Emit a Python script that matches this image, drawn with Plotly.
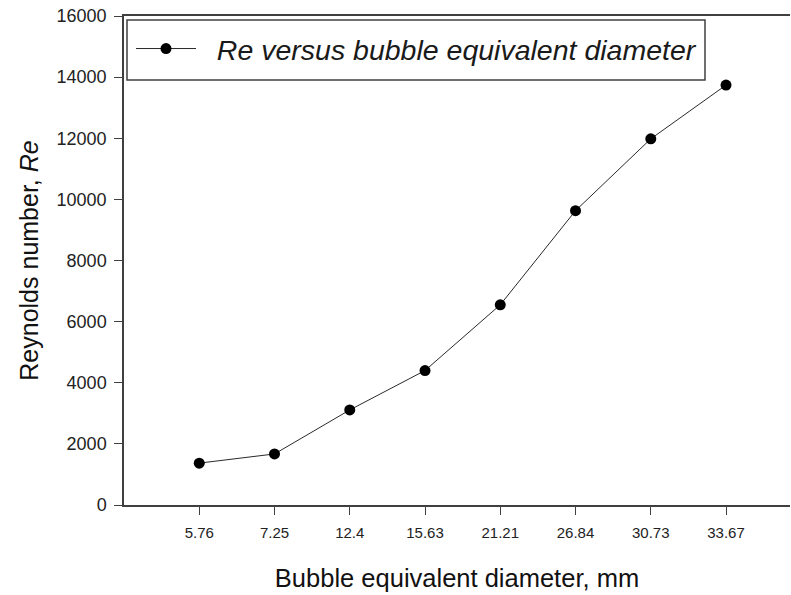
import plotly.graph_objects as go

diameters = ["5.76", "7.25", "12.4", "15.63", "21.21", "26.84", "30.73", "33.67"]
reynolds = [1370, 1670, 3110, 4400, 6550, 9630, 11980, 13740]
y_ticks = [0, 2000, 4000, 6000, 8000, 10000, 12000, 14000, 16000]

W, H = 791, 595
L, T = 124, 16
B = H - 505
R = W - 790
pw = W - L - R
ph = H - T - B

def px_x(x):
    return (x - L) / pw

def px_y(y):
    return (H - B - y) / ph

fig = go.Figure()
fig.add_trace(go.Scatter(
    x=diameters, y=reynolds, mode="lines+markers",
    name="&nbsp;&nbsp;<i>Re versus bubble equivalent diameter</i>",
    line=dict(color="#2a2a2a", width=1),
    marker=dict(color="black", size=11, symbol="circle"),
))

fig.add_shape(type="rect", xref="paper", yref="paper",
              x0=px_x(127), x1=px_x(705), y0=px_y(80), y1=px_y(20),
              line=dict(color="#404040", width=1.5), fillcolor="rgba(0,0,0,0)")

fig.update_layout(
    width=W, height=H,
    margin=dict(l=L, r=R, t=T, b=B, autoexpand=False),
    paper_bgcolor="white", plot_bgcolor="white",
    font=dict(family="Liberation Sans, Arial, sans-serif", color="#1a1a1a"),
    showlegend=True,
    legend=dict(x=px_x(131), y=px_y(49), xanchor="left", yanchor="middle",
                bgcolor="rgba(0,0,0,0)", borderwidth=0, itemwidth=60,
                font=dict(size=28.5, color="#1a1a1a")),
    xaxis=dict(
        type="category", range=[-1, 7.85],
        showline=True, linecolor="#404040", linewidth=1.5, mirror=True,
        ticks="outside", ticklen=8, tickwidth=1.2, tickcolor="#404040",
        showgrid=False, zeroline=False, ticklabelstandoff=5,
        tickfont=dict(size=15, color="#222"),
        title=dict(text="Bubble equivalent diameter, mm", font=dict(size=25.5, color="#111"), standoff=29),
    ),
    yaxis=dict(
        range=[0, 16000], tickvals=y_ticks, ticktext=[str(v) for v in y_ticks],
        showline=True, linecolor="#404040", linewidth=1.5,
        ticks="outside", ticklen=8, tickwidth=1.2, tickcolor="#404040",
        showgrid=False, zeroline=False, ticklabelstandoff=4,
        tickfont=dict(size=18, color="#222"),
        title=dict(text="Reynolds number, <i>Re</i>", font=dict(size=25, color="#111"), standoff=11),
    ),
)

fig.write_html("out.html", config={"displayModeBar": False},
               post_script="document.body.style.margin='0';")
